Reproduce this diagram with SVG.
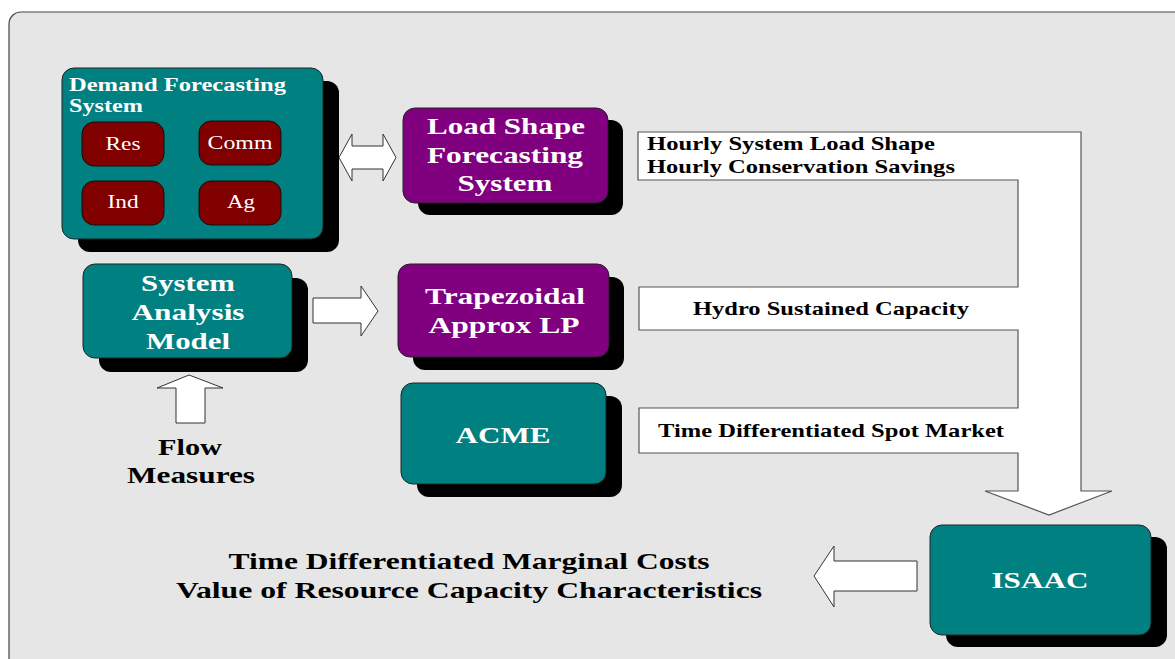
<svg xmlns="http://www.w3.org/2000/svg" width="1175" height="659" viewBox="0 0 1175 659">
<style>
.bg{fill:#e6e6e6;stroke:#444;stroke-width:1.2}
.sh{fill:#000}
.teal{fill:#008080;stroke:#222;stroke-width:1}
.purp{fill:#800080;stroke:#222;stroke-width:1}
.red{fill:#800000;stroke:#111;stroke-width:1}
.arr{fill:#fff;stroke:#333;stroke-width:1}
.lbl{fill:#fff;stroke:#555;stroke-width:1.2}
text{font-family:"Liberation Serif","Times New Roman",serif}
.nt{fill:#fff;font-weight:bold;font-size:23px;text-anchor:middle}
.st{fill:#fff;font-size:18px;text-anchor:middle}
.tt{fill:#fff;font-weight:bold;font-size:18px}
.bt{fill:#000;font-weight:bold;font-size:18px}
.big{fill:#000;font-weight:bold;font-size:23px;text-anchor:middle}
</style>
<rect class="bg" x="9" y="12" width="1190" height="670" rx="12"/>

<g id="connectors">
  <polygon class="arr" points="339,157.5 352,134 352,146 383,146 383,134 396,157.5 383,181 383,169 352,169 352,181"/>
  <polygon class="arr" points="313,298 361,298 361,286 378,311 361,336 361,323 313,323"/>
  <polygon class="arr" points="189,375 223,388 205,388 205,423 176,423 176,388 157,388"/>
  <polygon class="arr" points="814,576 834,546 834,561 917,561 917,591 834,591 834,607"/>
  <polygon class="lbl" points="638,132 1081,132 1081,491 1112,491 1049,515 985,491 1018,491 1018,453 639,453 639,408 1018,408 1018,330 639,330 639,287 1018,287 1018,180 638,180"/>
  <text class="bt" transform="translate(647,0) scale(1.35,1)" x="0" y="150" textLength="213.3" lengthAdjust="spacingAndGlyphs">Hourly System Load Shape</text>
  <text class="bt" transform="translate(647,0) scale(1.35,1)" x="0" y="173" textLength="228.1" lengthAdjust="spacingAndGlyphs">Hourly Conservation Savings</text>
  <text class="bt" transform="translate(693,0) scale(1.35,1)" x="0" y="315" textLength="204.4" lengthAdjust="spacingAndGlyphs">Hydro Sustained Capacity</text>
  <text class="bt" transform="translate(658,0) scale(1.35,1)" x="0" y="437" textLength="256.3" lengthAdjust="spacingAndGlyphs">Time Differentiated Spot Market</text>
</g>

<g id="dfs">
  <rect class="sh" x="78" y="81" width="261" height="171" rx="12"/>
  <rect class="teal" x="62" y="68" width="261" height="171" rx="12"/>
  <text class="tt" transform="translate(69,0) scale(1.35,1)" x="0" y="91" textLength="160.7" lengthAdjust="spacingAndGlyphs">Demand Forecasting</text>
  <text class="tt" transform="translate(69,0) scale(1.35,1)" x="0" y="112" textLength="54.8" lengthAdjust="spacingAndGlyphs">System</text>
</g>
<g id="res">
  <rect class="red" x="82" y="122" width="82" height="44" rx="12"/>
  <text class="st" transform="translate(123,0) scale(1.35,1)" x="0" y="150" textLength="25.9" lengthAdjust="spacingAndGlyphs">Res</text>
</g>
<g id="comm">
  <rect class="red" x="199" y="121" width="82" height="44" rx="12"/>
  <text class="st" transform="translate(240,0) scale(1.35,1)" x="0" y="149" textLength="48.1" lengthAdjust="spacingAndGlyphs">Comm</text>
</g>
<g id="ind">
  <rect class="red" x="82" y="181" width="82" height="44" rx="12"/>
  <text class="st" transform="translate(123,0) scale(1.35,1)" x="0" y="208" textLength="23" lengthAdjust="spacingAndGlyphs">Ind</text>
</g>
<g id="ag">
  <rect class="red" x="199" y="181" width="82" height="44" rx="12"/>
  <text class="st" transform="translate(241,0) scale(1.35,1)" x="0" y="208" textLength="20.7" lengthAdjust="spacingAndGlyphs">Ag</text>
</g>

<g id="lsfs">
  <rect class="sh" x="418" y="120" width="205" height="95" rx="12"/>
  <rect class="purp" x="403" y="108" width="205" height="95" rx="12"/>
  <text class="nt" transform="translate(506,0) scale(1.35,1)" x="0" y="134" textLength="117" lengthAdjust="spacingAndGlyphs">Load Shape</text>
  <text class="nt" transform="translate(505,0) scale(1.35,1)" x="0" y="163" textLength="115.6" lengthAdjust="spacingAndGlyphs">Forecasting</text>
  <text class="nt" transform="translate(505,0) scale(1.35,1)" x="0" y="191" textLength="70.4" lengthAdjust="spacingAndGlyphs">System</text>
</g>

<g id="sam">
  <rect class="sh" x="99" y="278" width="209" height="94" rx="12"/>
  <rect class="teal" x="83" y="264" width="209" height="94" rx="12"/>
  <text class="nt" transform="translate(188,0) scale(1.35,1)" x="0" y="291" textLength="69.6" lengthAdjust="spacingAndGlyphs">System</text>
  <text class="nt" transform="translate(188,0) scale(1.35,1)" x="0" y="320" textLength="83.7" lengthAdjust="spacingAndGlyphs">Analysis</text>
  <text class="nt" transform="translate(188,0) scale(1.35,1)" x="0" y="349" textLength="62.2" lengthAdjust="spacingAndGlyphs">Model</text>
</g>

<g id="tal">
  <rect class="sh" x="413" y="277" width="211" height="93" rx="12"/>
  <rect class="purp" x="398" y="264" width="211" height="93" rx="12"/>
  <text class="nt" transform="translate(505,0) scale(1.35,1)" x="0" y="304" textLength="118.5" lengthAdjust="spacingAndGlyphs">Trapezoidal</text>
  <text class="nt" transform="translate(504,0) scale(1.35,1)" x="0" y="333" textLength="111.9" lengthAdjust="spacingAndGlyphs">Approx LP</text>
</g>

<g id="acme">
  <rect class="sh" x="417" y="396" width="205" height="101" rx="12"/>
  <rect class="teal" x="401" y="383" width="205" height="101" rx="12"/>
  <text class="nt" transform="translate(503,0) scale(1.35,1)" x="0" y="443" textLength="70.4" lengthAdjust="spacingAndGlyphs">ACME</text>
</g>

<g id="isaac">
  <rect class="sh" x="946" y="537" width="221" height="110" rx="12"/>
  <rect class="teal" x="930" y="525" width="221" height="110" rx="12"/>
  <text class="nt" transform="translate(1040,0) scale(1.35,1)" x="0" y="588" textLength="71.9" lengthAdjust="spacingAndGlyphs">ISAAC</text>
</g>

<g id="flow">
  <text class="big" transform="translate(190,0) scale(1.35,1)" x="0" y="455" textLength="47.4" lengthAdjust="spacingAndGlyphs">Flow</text>
  <text class="big" transform="translate(191,0) scale(1.35,1)" x="0" y="483" textLength="94.8" lengthAdjust="spacingAndGlyphs">Measures</text>
</g>

<g id="output">
  <text class="big" transform="translate(469,0) scale(1.35,1)" x="0" y="569" textLength="356.3" lengthAdjust="spacingAndGlyphs">Time Differentiated Marginal Costs</text>
  <text class="big" transform="translate(469,0) scale(1.35,1)" x="0" y="598" textLength="434.1" lengthAdjust="spacingAndGlyphs">Value of Resource Capacity Characteristics</text>
</g>
</svg>
